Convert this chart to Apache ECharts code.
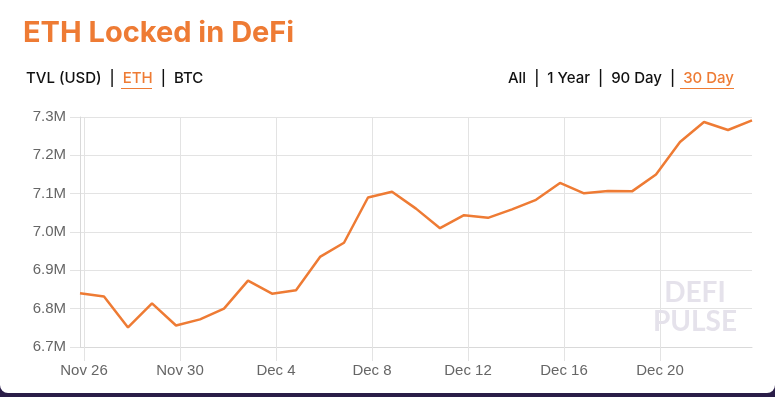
<!DOCTYPE html>
<html>
<head>
<meta charset="utf-8">
<script src="https://cdn.jsdelivr.net/npm/echarts@6/dist/echarts.min.js"></script>
<style>
  html, body { margin: 0; padding: 0; background: #2a1d48; }
  #chart { width: 775px; height: 397px; }
</style>
</head>
<body>
<div id="chart"></div>
<script>
// ---- data ----
const titleText = 'ETH Locked in DeFi';
const unitOptions = ['TVL (USD)', 'ETH', 'BTC'];
const rangeOptions = ['All', '1 Year', '90 Day', '30 Day'];

// sample timestamps (UTC)
const dates = [
  '2020-11-25T20:00:00Z','2020-11-26T20:00:00Z','2020-11-27T20:00:00Z','2020-11-28T20:00:00Z',
  '2020-11-29T20:00:00Z','2020-11-30T20:00:00Z','2020-12-01T20:00:00Z','2020-12-02T20:00:00Z',
  '2020-12-03T20:00:00Z','2020-12-04T20:00:00Z','2020-12-05T20:00:00Z','2020-12-06T20:00:00Z',
  '2020-12-07T20:00:00Z','2020-12-08T20:00:00Z','2020-12-09T20:00:00Z','2020-12-10T20:00:00Z',
  '2020-12-11T20:00:00Z','2020-12-12T20:00:00Z','2020-12-13T20:00:00Z','2020-12-14T20:00:00Z',
  '2020-12-15T20:00:00Z','2020-12-16T20:00:00Z','2020-12-17T20:00:00Z','2020-12-18T20:00:00Z',
  '2020-12-19T20:00:00Z','2020-12-20T20:00:00Z','2020-12-21T20:00:00Z','2020-12-22T20:00:00Z',
  '2020-12-23T20:00:00Z'
];
// ETH locked
const ethLocked = [
  6840000, 6832000, 6751000, 6814000, 6756000, 6772000, 6800000, 6873000,
  6839000, 6848000, 6935000, 6972000, 7090000, 7105000, 7061000, 7010000,
  7044000, 7037000, 7059000, 7084000, 7128000, 7101000, 7107000, 7106000,
  7150000, 7235000, 7287000, 7266000, 7291000
];
const xTickDates = ['2020-11-26T00:00:00Z','2020-11-30T00:00:00Z','2020-12-04T00:00:00Z',
  '2020-12-08T00:00:00Z','2020-12-12T00:00:00Z','2020-12-16T00:00:00Z','2020-12-20T00:00:00Z'];
const xTickLabels = ['Nov 26','Nov 30','Dec 4','Dec 8','Dec 12','Dec 16','Dec 20'];
const yMin = 6700000, yMax = 7300000, yStep = 100000;

// ---- chart ----
const ORANGE = '#ee7b34';
const GRID = '#e3e3e3';
const tickMs = xTickDates.map(d => Date.parse(d));
const seriesData = dates.map((d, i) => [Date.parse(d), ethLocked[i]]);

const chart = echarts.init(document.getElementById('chart'), null, { renderer: 'canvas' });

const hdrFont = 'Inter';
const sep = '{s|  |  }';
chart.setOption({
  backgroundColor: 'transparent',
  animation: false,
  grid: { left: 80, right: 23, top: 117, bottom: 50, containLabel: false },
  xAxis: {
    type: 'value',
    scale: true,
    min: seriesData[0][0],
    max: seriesData[seriesData.length - 1][0],
    axisLine: { show: true, lineStyle: { color: '#d9d9d9', width: 1 } },
    axisTick: { show: true, length: 14, customValues: tickMs, lineStyle: { color: GRID } },
    splitLine: { show: true, lineStyle: { color: GRID, width: 1 } },
    axisLabel: {
      customValues: tickMs,
      margin: 16,
      color: '#666',
      fontFamily: 'Liberation Sans, Arial, sans-serif',
      fontSize: 15,
      formatter: function (v) {
        const i = tickMs.indexOf(v);
        return i >= 0 ? xTickLabels[i] : '';
      }
    }
  },
  yAxis: {
    type: 'value',
    min: yMin, max: yMax, interval: yStep,
    axisLine: { show: true, lineStyle: { color: '#d9d9d9', width: 1 } },
    axisTick: { show: true, length: 10, lineStyle: { color: GRID } },
    splitLine: { show: true, lineStyle: { color: GRID, width: 1 } },
    axisLabel: {
      margin: 14,
      color: '#666',
      fontFamily: 'Liberation Sans, Arial, sans-serif',
      fontSize: 15,
      formatter: function (v) { return (v / 1e6).toFixed(1) + 'M'; }
    }
  },
  series: [{
    type: 'line',
    data: seriesData,
    showSymbol: false,
    symbol: 'none',
    smooth: false,
    lineStyle: { color: ORANGE, width: 2.5 },
    z: 5
  }],
  graphic: [
    { type: 'rect', z: -10, silent: true,
      shape: { x: 0, y: -20, width: 775, height: 413, r: 8 },
      style: { fill: '#ffffff' } },
    { type: 'text', left: 23, top: 19,
      style: { text: titleText, fill: ORANGE, font: '700 29px ' + hdrFont } },
    { type: 'text', left: 26, top: 71,
      style: {
        text: '{a|' + unitOptions[0] + '}' + sep + '{b|' + unitOptions[1] + '}' + sep + '{a|' + unitOptions[2] + '}',
        rich: {
          a: { fill: '#111', font: '500 15px ' + hdrFont },
          b: { fill: ORANGE, font: '500 15px ' + hdrFont },
          s: { fill: '#111', font: '500 15px ' + hdrFont }
        }
      } },
    { type: 'rect', silent: true, shape: { x: 121, y: 88, width: 31, height: 1 }, style: { fill: ORANGE } },
    { type: 'text', right: 41, top: 71,
      style: {
        text: '{a|' + rangeOptions[0] + '}' + sep + '{a|' + rangeOptions[1] + '}' + sep + '{a|' + rangeOptions[2] + '}' + sep + '{b|' + rangeOptions[3] + '}',
        rich: {
          a: { fill: '#111', font: '500 15px ' + hdrFont },
          b: { fill: ORANGE, font: '500 15px ' + hdrFont },
          s: { fill: '#111', font: '500 15px ' + hdrFont }
        }
      } },
    { type: 'rect', silent: true, shape: { x: 680, y: 88, width: 54, height: 1 }, style: { fill: ORANGE } },
    { type: 'text', x: 695, y: 293, z: 1,
      style: { text: 'DEFI', align: 'center', verticalAlign: 'middle', fill: '#e5e2eb',
        font: '700 28px Lato', textShadowColor: '#c2bdcf', textShadowOffsetX: 1.5, textShadowOffsetY: 1.5, textShadowBlur: 0 } },
    { type: 'text', x: 695, y: 322, z: 1,
      style: { text: 'PULSE', align: 'center', verticalAlign: 'middle', fill: '#e5e2eb',
        font: '700 28px Lato', textShadowColor: '#c2bdcf', textShadowOffsetX: 1.5, textShadowOffsetY: 1.5, textShadowBlur: 0 } }
  ]
});
</script>
</body>
</html>
